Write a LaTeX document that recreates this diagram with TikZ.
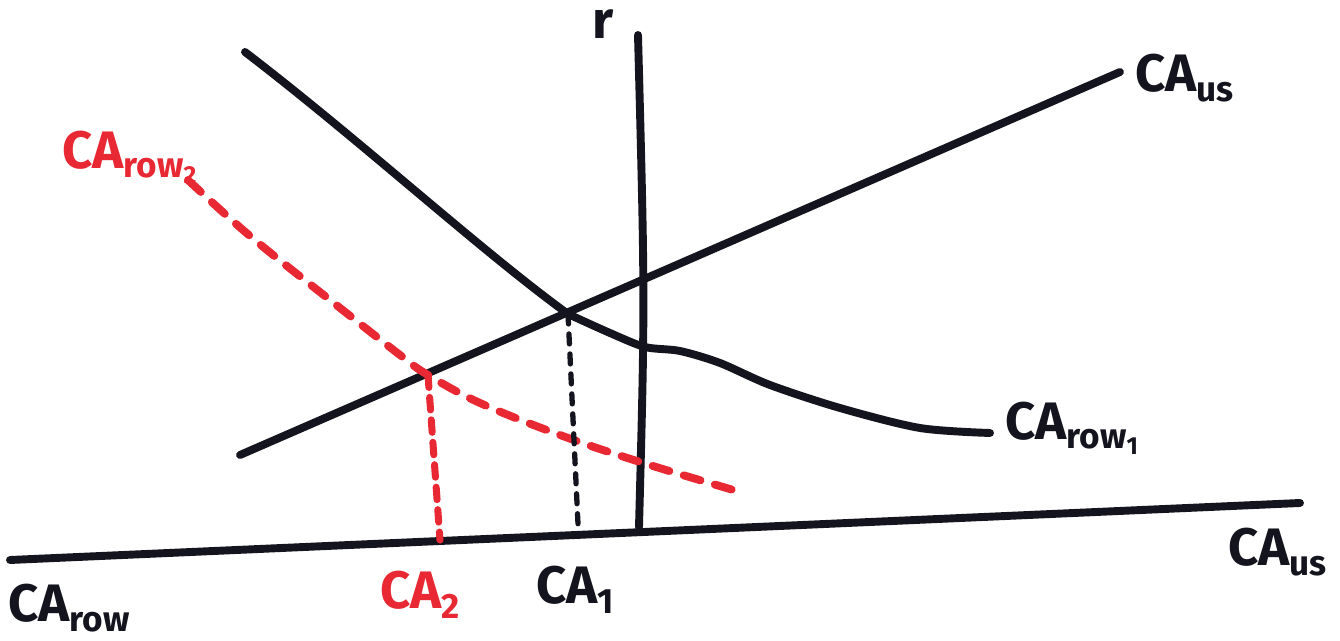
\documentclass[tikz,border=0pt]{standalone}
\usepackage{fontspec}
\setmainfont{Fira Sans}
\definecolor{mred}{RGB}{232,40,50}
\definecolor{mink}{RGB}{20,20,30}
\newcommand{\lab}[2]{\bfseries #1\raisebox{-0.35ex}{\fontsize{20}{24}\selectfont #2}}
\begin{document}
\begin{tikzpicture}[x=0.02cm,y=-0.02cm,
  ink/.style={draw=mink,line width=4.5pt,line cap=round,line join=round},
  redink/.style={draw=mred,line width=4.5pt,line cap=round,dash pattern=on 0.35cm off 0.3cm},
  blackdash/.style={draw=mink,line width=3pt,line cap=round,dash pattern=on 0.2cm off 0.2cm},
  lbl/.style={font=\fontsize{30}{36}\selectfont,text=mink,inner sep=0pt},
  rlbl/.style={lbl,text=mred}]
\useasboundingbox (0,0) rectangle (1340,641);
\fill[white] (0,0) rectangle (1340,641);
% coordinates
\coordinate (h0) at (10,560);
\coordinate (h1) at (1300,503);
\coordinate (v0) at (638,35);
\coordinate (vm) at (645,300);
\coordinate (v1) at (639,527);
\coordinate (us0) at (240,455);
\coordinate (us1) at (1120,72);
\coordinate (d0) at (245,52);
\coordinate (e1) at (568,314);
\coordinate (e2) at (428,375);
\coordinate (f1) at (578,524);
\coordinate (f2) at (440,540);
% axes
\draw[ink] (h0) -- (h1);
\draw[ink] (v0) .. controls (vm) .. (v1);
% CA us
\draw[ink] (us0) -- (us1);
% CA row 1
\draw[ink] (d0) .. controls (360,140) and (480,250) .. (e1);
\draw[ink] plot[smooth,tension=0.5] coordinates {(568,314) (610,333) (645,347) (680,351) (720,363) (770,385) (840,408) (920,428) (990,433)};
% CA row 2
\draw[redink] plot[smooth,tension=0.6] coordinates {(188,180) (250,236) (330,300) (400,355) (428,375) (480,403) (560,435) (640,462) (740,492)};
% drop lines
\draw[blackdash] (e1) -- (f1);
\draw[draw=mred,line width=4pt,line cap=round,dash pattern=on 0.25cm off 0.2cm] (e2) -- (f2);
% labels
\node[lbl] (r) at (603,24) {\bfseries r};
\node[lbl,anchor=west] (lus) at (1135,78) {\lab{CA}{us}};
\node[lbl,anchor=west] (lrow1) at (1005,428) {\lab{CA}{row\textsubscript{1}}};
\node[rlbl,anchor=west] (lrow2) at (62,157) {\lab{CA}{row\textsubscript{2}}};
\node[lbl,anchor=west] (lrow) at (8,608) {\lab{CA}{row}};
\node[lbl,anchor=west] (lus2) at (1228,552) {\lab{CA}{us}};
\node[rlbl] (l2) at (420,595) {\lab{CA}{2}};
\node[lbl] (l1) at (575,590) {\lab{CA}{1}};
\end{tikzpicture}
\end{document}
